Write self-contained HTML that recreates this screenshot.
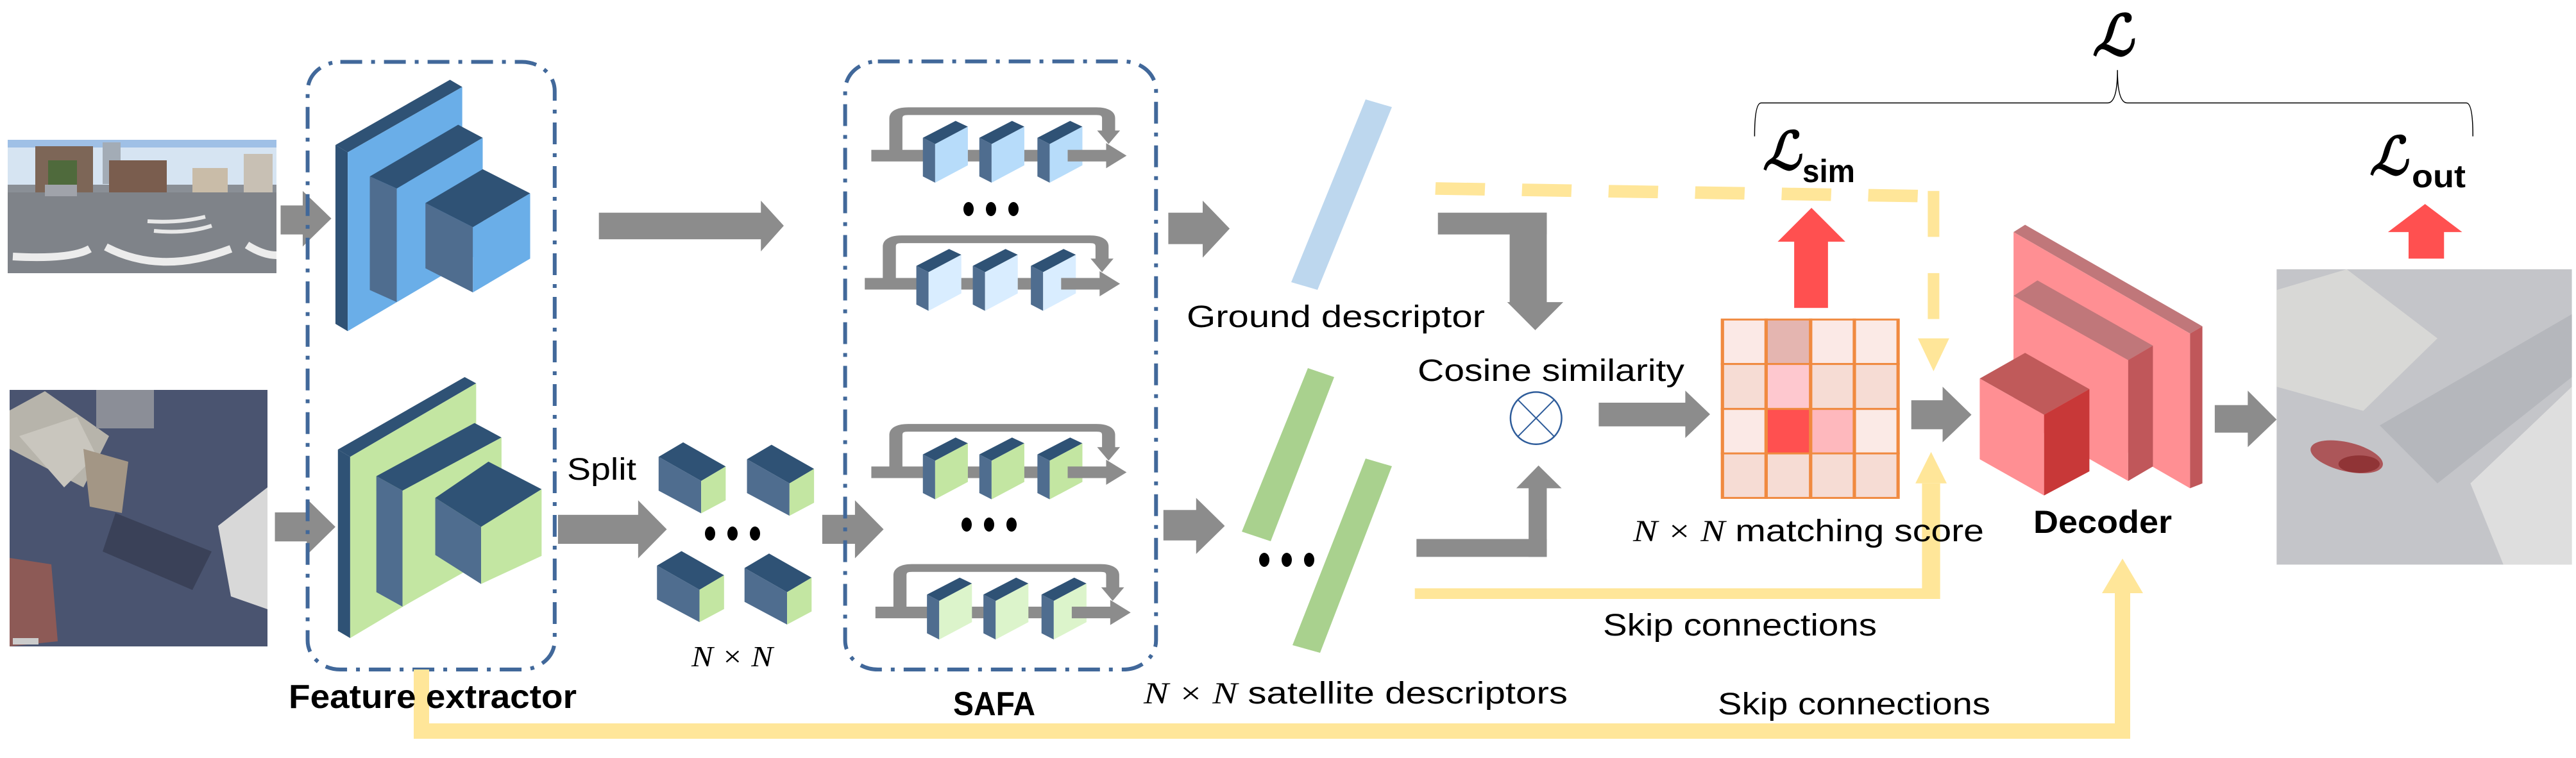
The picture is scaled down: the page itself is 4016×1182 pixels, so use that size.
<!DOCTYPE html>
<html><head><meta charset="utf-8"><style>
html,body{margin:0;padding:0;background:#fff;}
svg{display:block;}
text{font-family:"Liberation Sans Narrow","Liberation Sans",sans-serif;fill:#000;}
</style></head><body>
<svg width="4016" height="1182" viewBox="0 0 4016 1182" xmlns="http://www.w3.org/2000/svg">
<rect width="4016" height="1182" fill="#fff"/>

<!-- Ground panorama -->
<g>
<rect x="12" y="218" width="419" height="208" fill="#8a8f96"/>
<rect x="12" y="218" width="419" height="70" fill="#d6e4f2"/>
<rect x="12" y="218" width="419" height="12" fill="#9fc0e6"/>
<rect x="55" y="228" width="90" height="75" fill="#7d6657"/>
<rect x="75" y="250" width="45" height="45" fill="#4f6a3c"/>
<rect x="160" y="222" width="28" height="65" fill="#a3acb6"/>
<rect x="170" y="250" width="90" height="55" fill="#7a5d4e"/>
<rect x="300" y="262" width="55" height="42" fill="#c9bca8"/>
<rect x="380" y="240" width="45" height="62" fill="#c8c0b4"/>
<rect x="12" y="300" width="419" height="126" fill="#7f8389"/>
<rect x="70" y="288" width="50" height="18" fill="#a0a3aa"/>
<path d="M20 400 Q110 405 140 388 M165 385 Q250 430 360 388 M385 382 Q410 398 431 398" stroke="#ececec" stroke-width="12" fill="none"/>
<path d="M240 360 Q290 365 330 352 M230 345 Q280 348 320 338" stroke="#e8e8e8" stroke-width="6" fill="none"/>
</g>

<!-- Satellite -->
<g>
<rect x="15" y="608" width="402" height="400" fill="#4a5470"/>
<polygon points="15,640 70,610 170,680 130,760 15,700" fill="#b7b4ab"/>
<polygon points="30,680 120,650 150,710 100,760" fill="#c9c6be"/>
<rect x="150" y="608" width="90" height="60" fill="#8b8e97"/>
<polygon points="130,700 200,720 190,800 140,790" fill="#a39685"/>
<polygon points="15,870 80,880 90,1000 15,1008" fill="#8d5a56"/>
<polygon points="340,820 417,760 417,950 360,930" fill="#d8d8d8"/>
<polygon points="180,800 330,860 300,920 160,860" fill="#3a4158"/>
<rect x="20" y="995" width="40" height="10" fill="#ccc"/>
</g>

<!-- Gray arrows (zoom1 coords) -->
<g transform="scale(1.2755,0.7538)" fill="#8c8c8c">
<rect x="343" y="425" width="37" height="60"/><polygon points="370,395 405,452 370,510"/>
<rect x="732" y="440" width="200" height="55"/><polygon points="930,415 958,467 930,520"/>
<rect x="1428" y="440" width="44" height="65"/><polygon points="1470,415 1503,473 1470,533"/>
<rect x="336" y="1060" width="40" height="60"/><polygon points="375,1032 410,1090 375,1148"/>
<rect x="682" y="1065" width="100" height="60"/><polygon points="780,1035 815,1095 780,1155"/>
<rect x="1005" y="1065" width="42" height="60"/><polygon points="1045,1035 1080,1095 1045,1155"/>
<rect x="1422" y="1055" width="42" height="63"/><polygon points="1462,1030 1497,1088 1462,1146"/>
</g>

<!-- Feature extractor blocks (zoom1 coords) -->
<g transform="scale(1.2755,0.7538)">
<polygon points="410,300 550,165 565,180 425,315" fill="#2f5275"/>
<polygon points="410,300 425,315 425,685 410,670" fill="#2f5275"/>
<polygon points="425,315 565,180 565,545 425,685" fill="#6aaee8"/>
<polygon points="452,365 560,258 590,285 485,390" fill="#2f5275"/>
<polygon points="452,365 485,390 485,625 452,600" fill="#4f6d8f"/>
<polygon points="485,390 590,285 590,520 485,625" fill="#6aaee8"/>
<polygon points="520,420 590,350 648,400 578,470" fill="#2f5275"/>
<polygon points="520,420 578,470 578,605 520,555" fill="#4f6d8f"/>
<polygon points="578,470 648,400 648,535 578,605" fill="#6aaee8"/>
<polygon points="413,930 568,780 582,793 428,945" fill="#2f5275"/>
<polygon points="413,930 428,945 428,1320 413,1305" fill="#2f5275"/>
<polygon points="428,945 582,793 582,1165 428,1320" fill="#c3e6a2"/>
<polygon points="460,985 580,875 613,905 492,1015" fill="#2f5275"/>
<polygon points="460,985 492,1015 492,1255 460,1225" fill="#4f6d8f"/>
<polygon points="492,1015 613,905 613,1140 492,1255" fill="#c3e6a2"/>
<polygon points="532,1030 597,955 662,1012 588,1090" fill="#2f5275"/>
<polygon points="532,1030 588,1090 588,1208 532,1148" fill="#4f6d8f"/>
<polygon points="588,1090 662,1012 662,1150 588,1208" fill="#c3e6a2"/>
<rect x="376" y="128" width="302" height="1257" rx="40" ry="60" fill="none" stroke="#41689a" stroke-width="6" stroke-dasharray="34,14,6,14" vector-effect="non-scaling-stroke"/>
<rect x="1033" y="127" width="380" height="1258" rx="40" ry="60" fill="none" stroke="#41689a" stroke-width="6" stroke-dasharray="34,14,6,14" vector-effect="non-scaling-stroke"/>
<g id="cube">
<polygon points="805,945 835,915 887,965 857,995" fill="#2f5275"/>
<polygon points="805,945 857,995 857,1062 805,1015" fill="#4f6d8f"/>
<polygon points="857,995 887,965 887,1035 857,1062" fill="#c3e6a2"/>
</g>
<use href="#cube" x="108" y="5"/>
<use href="#cube" x="-2" y="225"/>
<use href="#cube" x="105" y="230"/>
</g>

<defs>
<g id="blk">
<polygon points="0,-35 40,-70 55,-58 15,-22" fill="#2f5275"/>
<polygon points="0,-35 15,-22 15,58 0,45" fill="#4f6d8f"/>
<polygon points="15,-22 55,-58 55,22 15,58" fill="currentColor"/>
</g>
<g id="row">
<path d="M1095 0 V-75 Q1095 -90 1110 -90 H1340 Q1355 -90 1355 -75 V-45" fill="none" stroke="#8c8c8c" stroke-width="16"/>
<polygon points="1341,-50 1369,-50 1355,-22" fill="#8c8c8c"/>
<rect x="1065" y="-10" width="65" height="24" fill="#8c8c8c"/>
<rect x="1180" y="-10" width="25" height="24" fill="#8c8c8c"/>
<rect x="1250" y="-10" width="25" height="24" fill="#8c8c8c"/>
<use href="#blk" x="1128" y="0"/>
<use href="#blk" x="1197" y="0"/>
<use href="#blk" x="1268" y="0"/>
<rect x="1305" y="-10" width="50" height="24" fill="#8c8c8c"/>
<polygon points="1352,-24 1377,2 1352,28" fill="#8c8c8c"/>
</g>
</defs>
<g transform="scale(1.2755,0.7538)">
<use href="#row" y="320" color="#b7dcfa"/>
<use href="#row" y="585" x="-8" color="#d9edff"/>
<use href="#row" y="975" color="#c3e6a2"/>
<use href="#row" y="1265" x="5" color="#dcf4cb"/>
</g>

<g fill="#000">
<ellipse cx="1510" cy="326" rx="8" ry="11"/><ellipse cx="1545" cy="326" rx="8" ry="11"/><ellipse cx="1580" cy="326" rx="8" ry="11"/>
<ellipse cx="1507" cy="818" rx="8" ry="11"/><ellipse cx="1542" cy="818" rx="8" ry="11"/><ellipse cx="1577" cy="818" rx="8" ry="11"/>
<ellipse cx="1107" cy="832" rx="8" ry="11"/><ellipse cx="1142" cy="832" rx="8" ry="11"/><ellipse cx="1177" cy="832" rx="8" ry="11"/>
<ellipse cx="1971" cy="873" rx="8" ry="11"/><ellipse cx="2006" cy="873" rx="8" ry="11"/><ellipse cx="2041" cy="873" rx="8" ry="11"/>
</g>

<polygon points="2129,155 2170,167 2054,452 2013,440" fill="#bdd7ee"/>
<polygon points="2039,574 2080,588 1981,844 1936,829" fill="#a9d18e"/>
<polygon points="2129,715 2170,727 2058,1018 2015,1006" fill="#a9d18e"/>

<path d="M657 1044 V1140 H3309 V925" fill="none" stroke="#ffe699" stroke-width="24"/>
<polygon points="3277,925 3341,925 3309,871" fill="#ffe699"/>

<g transform="translate(2000,0) scale(1.2857,0.7538)">
<path d="M185 390 L790 406" stroke="#ffe699" stroke-width="26" stroke-dasharray="60,45" fill="none"/>
<path d="M789 395 V700" stroke="#ffe699" stroke-width="14" stroke-dasharray="95,75" fill="none"/>
<polygon points="770,700 808,700 789,768" fill="#ffe699"/>
<path d="M160 1228 H786 V1000" stroke="#ffe699" stroke-width="22" fill="none"/>
<polygon points="767,1000 805,1000 786,935" fill="#ffe699"/>
<g fill="#8c8c8c">
<rect x="188" y="440" width="132" height="45"/><rect x="275" y="440" width="45" height="188"/>
<polygon points="272,625 340,625 306,683"/>
<rect x="162" y="1115" width="158" height="37"/><rect x="298" y="1008" width="22" height="144"/>
<polygon points="283,1010 338,1010 310,963"/>
<rect x="383" y="833" width="107" height="49"/><polygon points="488,808 518,857 488,906"/>
<rect x="762" y="828" width="40" height="60"/><polygon points="800,800 835,858 800,915"/>
<rect x="1130" y="838" width="42" height="57"/><polygon points="1170,808 1205,868 1170,925"/>
</g>
<ellipse cx="307" cy="865" rx="31" ry="54" fill="none" stroke="#2e5c9a" stroke-width="2.5" vector-effect="non-scaling-stroke"/>
<path d="M285 827 L329 903 M329 827 L285 903" stroke="#2e5c9a" stroke-width="2" vector-effect="non-scaling-stroke"/>
<g stroke="#f08a40" stroke-width="4" vector-effect="non-scaling-stroke">
<rect x="533" y="661" width="53" height="92" fill="#fbe9e6"/><rect x="586" y="661" width="54" height="92" fill="#e4b5b0"/><rect x="640" y="661" width="53" height="92" fill="#fbe9e6"/><rect x="693" y="661" width="53" height="92" fill="#fbeae6"/>
<rect x="533" y="753" width="53" height="93" fill="#f6dcd4"/><rect x="586" y="753" width="54" height="93" fill="#fec8cf"/><rect x="640" y="753" width="53" height="93" fill="#f6dcd4"/><rect x="693" y="753" width="53" height="93" fill="#f6dcd4"/>
<rect x="533" y="846" width="53" height="92" fill="#fbe9e6"/><rect x="586" y="846" width="54" height="92" fill="#ff5050"/><rect x="640" y="846" width="53" height="92" fill="#feb8bd"/><rect x="693" y="846" width="53" height="92" fill="#fbeae6"/>
<rect x="533" y="938" width="53" height="92" fill="#f6dcd4"/><rect x="586" y="938" width="54" height="92" fill="#f6dcd4"/><rect x="640" y="938" width="53" height="92" fill="#f6dcd4"/><rect x="693" y="938" width="53" height="92" fill="#f6dcd4"/>
</g>
<g fill="#ff5050">
<rect x="620" y="498" width="41" height="139"/><polygon points="600,500 682,500 641,430"/>
<rect x="1365" y="478" width="43" height="57"/><polygon points="1340,480 1430,480 1385,422"/>
</g>
<polygon points="886,480 900,465 1115,675 1100,690" fill="#c0777a"/>
<polygon points="886,480 1100,690 1100,1010 886,800" fill="#ff8f93"/>
<polygon points="1100,690 1115,675 1115,1000 1100,1010" fill="#c0575a"/>
<polygon points="886,612 915,580 1055,715 1025,745" fill="#c0777a"/>
<polygon points="886,612 1025,745 1025,995 886,860" fill="#ff8f93"/>
<polygon points="1025,745 1055,715 1055,965 1025,995" fill="#c0575a"/>
<polygon points="845,783 900,730 978,805 923,858" fill="#c05a5a"/>
<polygon points="845,783 923,858 923,1025 845,950" fill="#ff8f93"/>
<polygon points="923,858 978,805 978,975 923,1025" fill="#c83838"/>
<rect x="1205" y="557" width="358" height="611" fill="#c4c5c9"/>
<polygon points="1205,600 1290,557 1400,700 1310,850 1205,800" fill="#d8d8d6"/>
<polygon points="1440,1000 1563,800 1563,1168 1480,1168" fill="#dedede"/>
<polygon points="1330,880 1563,650 1563,780 1400,1000" fill="#b5b7bc"/>
<ellipse cx="1290" cy="945" rx="48" ry="28" fill="#a3262a" opacity="0.7" transform="rotate(30 1290 945)"/>
<ellipse cx="1305" cy="960" rx="25" ry="18" fill="#7a1a1a" opacity="0.55"/>
<path d="M572 282 Q572 213 580 213 H1000 Q1012 213 1012 145 Q1012 213 1024 213 H1435 Q1443 213 1443 282" fill="none" stroke="#000" stroke-width="1.5" vector-effect="non-scaling-stroke"/>
</g>

<g>
<text x="3262" y="86" font-size="88" style="font-family:'Liberation Serif',serif" font-style="italic" font-weight="bold">ℒ</text>
<text x="2748" y="264" font-size="82" style="font-family:'Liberation Serif',serif" font-style="italic" font-weight="bold">ℒ</text>
<text x="3694" y="272" font-size="82" style="font-family:'Liberation Serif',serif" font-style="italic" font-weight="bold">ℒ</text>
</g>
<text x="2810" y="284" font-size="50" font-weight="bold" textLength="82" lengthAdjust="spacingAndGlyphs">sim</text>
<text x="3760" y="292" font-size="50" font-weight="bold" textLength="84" lengthAdjust="spacingAndGlyphs">out</text>

<text x="450" y="1104" font-size="52" font-weight="bold" textLength="449" lengthAdjust="spacingAndGlyphs">Feature extractor</text>
<text x="1486" y="1115" font-size="52" font-weight="bold" textLength="128" lengthAdjust="spacingAndGlyphs">SAFA</text>
<text x="884" y="748" font-size="48" textLength="108" lengthAdjust="spacingAndGlyphs">Split</text>
<text x="1078" y="1039" font-size="46" style="font-family:'Liberation Serif',serif" font-style="italic" textLength="127" lengthAdjust="spacingAndGlyphs">N × N</text>
<text x="1850" y="510" font-size="48" textLength="465" lengthAdjust="spacingAndGlyphs">Ground descriptor</text>
<text x="1783" y="1097" font-size="48" textLength="661" lengthAdjust="spacingAndGlyphs"><tspan style="font-family:'Liberation Serif',serif;font-style:italic">N × N</tspan> satellite descriptors</text>
<text x="2210" y="594" font-size="48" textLength="416" lengthAdjust="spacingAndGlyphs">Cosine similarity</text>
<text x="2546" y="844" font-size="48" textLength="547" lengthAdjust="spacingAndGlyphs"><tspan style="font-family:'Liberation Serif',serif;font-style:italic">N × N</tspan> matching score</text>
<text x="3170" y="831" font-size="50" font-weight="bold" textLength="216" lengthAdjust="spacingAndGlyphs">Decoder</text>
<text x="2499" y="991" font-size="48" textLength="427" lengthAdjust="spacingAndGlyphs">Skip connections</text>
<text x="2678" y="1114" font-size="48" textLength="425" lengthAdjust="spacingAndGlyphs">Skip connections</text>
</svg>
</body></html>
